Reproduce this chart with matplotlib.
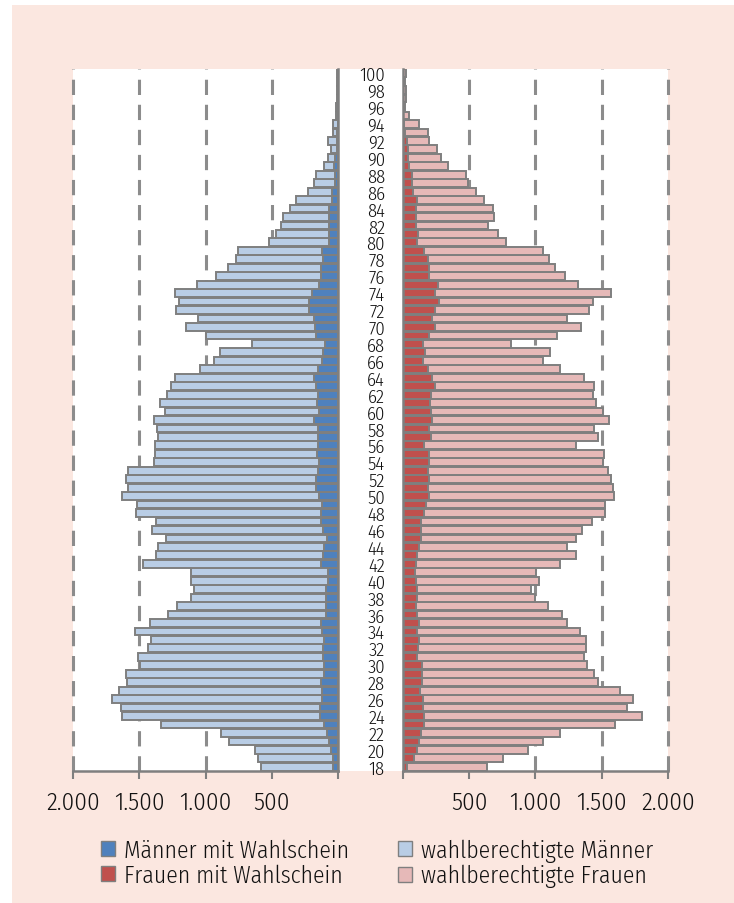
import numpy as np
import matplotlib
matplotlib.use("Agg")
from matplotlib import pyplot as plt
from matplotlib.patches import Patch, Rectangle

# Alter 18..100
ages = np.arange(18, 101)

# Männer: wahlberechtigt (gesamt) und mit Wahlschein, Alter 18..100
men_total = [
    581, 602, 629, 823, 886, 1339, 1631, 1638, 1704, 1651,   # 18-27
    1593, 1601, 1492, 1510, 1434, 1414, 1530, 1417, 1286, 1216,  # 28-37
    1107, 1090, 1110, 1107, 1472, 1374, 1359, 1301, 1404, 1374,  # 38-47
    1525, 1518, 1631, 1583, 1601, 1583, 1389, 1379, 1384, 1356,  # 48-57
    1369, 1389, 1309, 1346, 1293, 1263, 1233, 1040, 939, 893,    # 58-67
    652, 999, 1148, 1057, 1221, 1200, 1233, 1067, 921, 828,      # 68-77
    770, 753, 519, 468, 430, 413, 365, 317, 226, 179,            # 78-87
    169, 108, 78, 53, 73, 40, 35, 15, 15, 10,                    # 88-97
    8, 5, 5,                                                     # 98-100
]
men_ws = [
    35, 40, 55, 70, 80, 106, 136, 136, 121, 121,
    126, 106, 106, 111, 111, 106, 121, 126, 91, 91,
    91, 91, 75, 75, 126, 116, 106, 80, 111, 131,
    126, 123, 141, 166, 166, 148, 141, 156, 151, 151,
    148, 181, 146, 156, 148, 166, 181, 148, 121, 116,
    98, 166, 171, 181, 216, 216, 196, 141, 131, 131,
    111, 121, 70, 70, 65, 65, 65, 48, 43, 25,
    23, 28, 23, 10, 8, 5, 3, 2, 2, 1,
    1, 0, 0,
]

# Frauen: wahlberechtigt (gesamt) und mit Wahlschein, Alter 18..100
women_total = [
    632, 755, 941, 1057, 1188, 1601, 1804, 1694, 1734, 1638,
    1470, 1445, 1389, 1369, 1382, 1382, 1339, 1238, 1198, 1095,
    999, 966, 1024, 1002, 1185, 1309, 1238, 1304, 1354, 1425,
    1523, 1528, 1596, 1588, 1568, 1548, 1507, 1515, 1306, 1472,
    1440, 1558, 1512, 1460, 1432, 1440, 1364, 1185, 1054, 1112,
    818, 1165, 1342, 1241, 1407, 1437, 1573, 1324, 1223, 1145,
    1100, 1060, 778, 720, 639, 687, 677, 614, 549, 491,
    473, 342, 284, 254, 194, 189, 123, 48, 15, 20,
    20, 15, 25,
]
women_ws = [
    33, 83, 108, 119, 139, 159, 159, 154, 154, 128,
    143, 143, 143, 108, 113, 119, 103, 119, 108, 98,
    103, 103, 98, 88, 98, 108, 119, 139, 134, 139,
    159, 174, 199, 189, 194, 189, 194, 199, 159, 209,
    194, 219, 214, 204, 214, 239, 219, 189, 154, 164,
    149, 199, 239, 219, 244, 269, 244, 264, 194, 194,
    189, 159, 108, 116, 98, 98, 98, 108, 73, 70,
    68, 48, 40, 40, 28, 15, 5, 3, 2, 2,
    2, 1, 2,
]

xticks = [0, 500, 1000, 1500, 2000]
xticklabels = ["", "500", "1.000", "1.500", "2.000"]

men_total = np.array(men_total)
men_ws = np.array(men_ws)
women_total = np.array(women_total)
women_ws = np.array(women_ws)

c_men_dark = "#4F81BD"
c_men_light = "#B9CDE5"
c_women_dark = "#C0504D"
c_women_light = "#E6B9B8"
c_edge = "#7F7F7F"
c_grid = "#8C8C8C"
c_bg = "#FBE7E0"

plt.rcParams["font.family"] = ["Fira Sans Condensed", "DejaVu Sans"]
plt.rcParams["font.weight"] = 300
plt.rcParams["text.color"] = "#111111"
plt.rcParams["xtick.color"] = "#111111"
plt.rcParams["ytick.color"] = "#111111"

W, H = 734, 904
fig = plt.figure(figsize=(W / 100, H / 100), dpi=100, facecolor="white")

# pinker Hintergrund und weisse Zeichenfläche
fig.patches.append(Rectangle((12 / W, 0), 1, 1 - 6 / H, transform=fig.transFigure,
                             facecolor=c_bg, edgecolor="none", zorder=-10))
fig.patches.append(Rectangle((73 / W, (H - 772) / H), (668 - 73) / W, 702 / H,
                             transform=fig.transFigure, facecolor="white",
                             edgecolor="none", zorder=-9))

bottom = (H - 772) / H
height = 702 / H
axL = fig.add_axes([73 / W, bottom, 265 / W, height])
axR = fig.add_axes([403 / W, bottom, 265 / W, height])

bh = 0.92
lw = 1.4
axL.barh(ages, men_ws, height=bh, color=c_men_dark, edgecolor=c_edge, linewidth=lw, zorder=3)
axL.barh(ages, men_total - men_ws, left=men_ws, height=bh, color=c_men_light,
         edgecolor=c_edge, linewidth=lw, zorder=3)
axR.barh(ages, women_ws, height=bh, color=c_women_dark, edgecolor=c_edge, linewidth=lw, zorder=3)
axR.barh(ages, women_total - women_ws, left=women_ws, height=bh, color=c_women_light,
         edgecolor=c_edge, linewidth=lw, zorder=3)

for ax in (axL, axR):
    ax.set_facecolor("none")
    ax.set_xlim(0, 2000)
    ax.set_ylim(17.5, 100.5)
    for v in xticks[1:]:
        ax.axvline(v, color=c_grid, lw=2.2, dashes=(5, 3.2), zorder=1, clip_on=False)
    ax.set_xticks(xticks)
    ax.set_xticklabels(xticklabels, fontsize=18)
    ax.tick_params(axis="x", direction="out", length=6, width=1.5, color=c_edge, pad=8)
    ax.spines["top"].set_visible(False)
    ax.spines["bottom"].set_color(c_edge)
    ax.spines["bottom"].set_linewidth(1.8)

axL.invert_xaxis()
axL.spines["left"].set_visible(False)
axL.spines["right"].set_color(c_edge)
axL.spines["right"].set_linewidth(1.8)
axL.spines["right"].set_zorder(4)
axL.set_yticks([])

axR.spines["right"].set_visible(False)
axR.spines["left"].set_color(c_edge)
axR.spines["left"].set_linewidth(1.8)
axR.spines["left"].set_zorder(4)
axR.set_yticks(ages[::2])
axR.set_yticklabels([str(a) for a in ages[::2]], fontsize=13.5)
axR.tick_params(axis="y", length=0, pad=13)

handles = [
    Patch(facecolor=c_men_dark, edgecolor=c_edge, label="Männer mit Wahlschein"),
    Patch(facecolor=c_women_dark, edgecolor=c_edge, label="Frauen mit Wahlschein"),
    Patch(facecolor=c_men_light, edgecolor=c_edge, label="wahlberechtigte Männer"),
    Patch(facecolor=c_women_light, edgecolor=c_edge, label="wahlberechtigte Frauen"),
]
fig.legend(handles=handles, ncol=2, frameon=False, fontsize=17,
           loc="center", bbox_to_anchor=(377 / W, (H - 864) / H),
           handlelength=0.6, handleheight=0.6, handletextpad=0.35,
           columnspacing=2.1, labelspacing=0.1, borderpad=0)

fig.savefig("out.png", dpi=100, facecolor="white")
